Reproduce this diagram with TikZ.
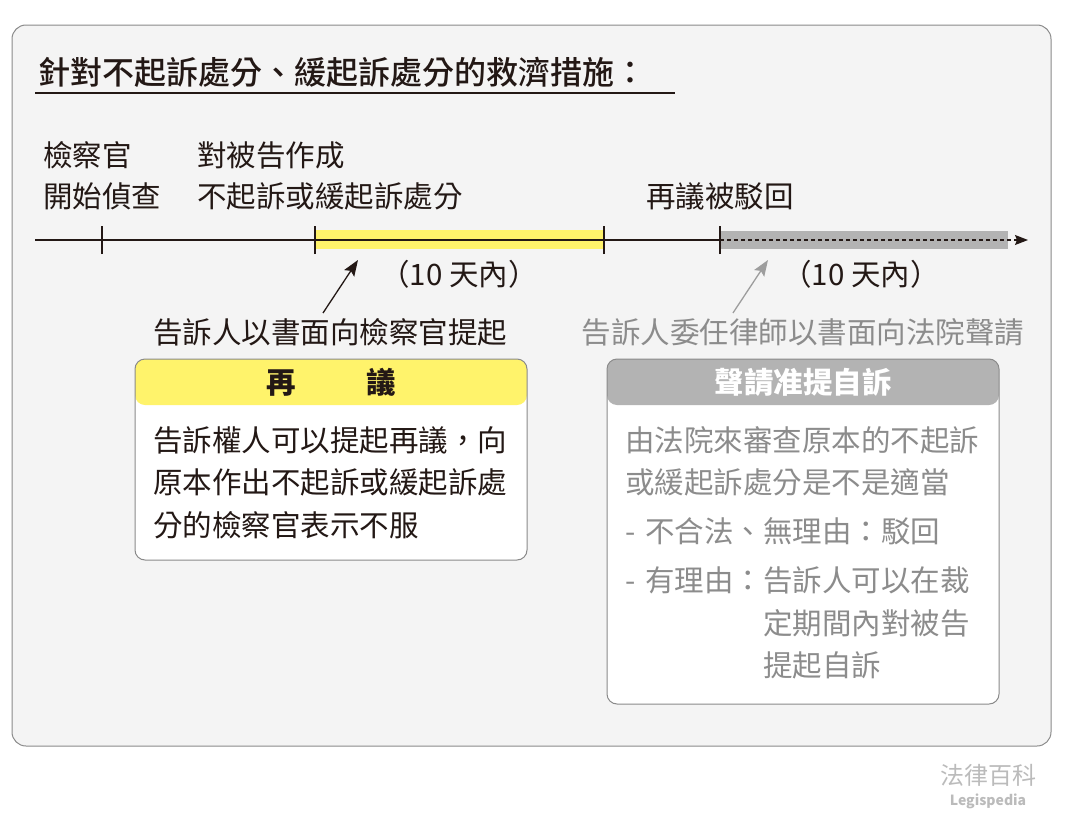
\documentclass[tikz,border=0pt]{standalone}
\usepackage{fontspec}
\setmainfont{Noto Sans CJK TC}
\newfontfamily\titlefont{Noto Sans CJK TC Medium}
\usetikzlibrary{arrows.meta, positioning}
\definecolor{ink}{HTML}{231815}
\definecolor{panel}{HTML}{F4F4F4}
\definecolor{frame}{HTML}{8A8A8A}
\definecolor{hlyellow}{HTML}{FFF36B}
\definecolor{hlgray}{HTML}{B3B3B3}
\definecolor{softgray}{HTML}{8C8C8C}
\definecolor{marktext}{HTML}{BBBBBB}

\begin{document}
\begin{tikzpicture}[x=1pt,y=-1pt]
	\tikzset{txt/.style={inner sep=0, text=ink, font=\fontsize{29.5}{42.5}\selectfont}}
	\tikzset{para/.style={txt, anchor=base west, text width=#1, align=left}}
	\tikzset{card/.style={draw=frame, line width=1pt, rounded corners=10pt, fill=white, inner sep=0}}
	\tikzset{tickmark/.style={draw=ink, line width=1.2pt}}
	\tikzset{ar/.style={-{Stealth[length=16pt,width=12pt,inset=3pt]}, line width=1.3pt}}
	\useasboundingbox (0,0) rectangle (1065,827);
	\draw[frame, fill=panel, line width=1pt, rounded corners=14pt] (12,25) rectangle (1051,746);
	\node[txt, anchor=west, font=\fontsize{32}{38}\titlefont] at (38,72) (title) {針對不起訴處分、緩起訴處分的救濟措施：};
	\draw[ink, line width=1.2pt] (35,93) -- (675,93);
	\fill[hlyellow] (315,230) rectangle (604,249);
	\fill[hlgray] (720,231) rectangle (1008,249);
	\coordinate (t0) at (35,240);
	\coordinate (t1) at (102,240);
	\coordinate (t2) at (315,240);
	\coordinate (t3) at (604,240);
	\coordinate (t4) at (720,240);
	\coordinate (tend) at (1028,240);
	\draw[ink, line width=1.2pt] (t0) -- (t4);
	\draw[ink, line width=1.2pt, dash pattern=on 4pt off 3pt, -{Stealth[length=13pt,width=10pt,inset=2pt]}] (t4) -- (tend);
	\foreach \t in {t1,t2,t3,t4}
		\draw[tickmark] ([yshift=-14pt]\t) -- ([yshift=14pt]\t);
	\node[para=200pt] at (43,166) (start) {檢察官\\[-1.5pt]開始偵查};
	\node[para=320pt] at (197,166) (decide) {對被告作成\\[-1.5pt]不起訴或緩起訴處分};
	\node[txt, anchor=west] at (646,196) (reject) {再議被駁回};
	\node[txt] at (459,274) (days1) {（10 天內）};
	\node[txt] at (861,274) (days2) {（10 天內）};
	\node[txt] at (330,332) (req) {告訴人以書面向檢察官提起};
	\node[txt, text=softgray] at (803,332) (app) {告訴人委任律師以書面向法院聲請};
	\coordinate (p1) at (358,260);
	\coordinate (p2) at (768,260);
	\draw[ar, ink] ([xshift=-7pt,yshift=5pt]req.north) -- (p1);
	\draw[ar, softgray!85] ([xshift=-70pt,yshift=5pt]app.north) -- (p2);
	\node[card, minimum width=392pt, minimum height=201pt, path picture={\fill[hlyellow] (path picture bounding box.north west) rectangle ([yshift=-46pt]path picture bounding box.north east);}] at (331,459.5) (recon) {};
	\node[txt, font=\fontsize{29.5}{35}\bfseries] at ([yshift=-24pt]recon.north) (reconhead) {再\hspace{2.4em}議};
	\node[para=372pt] at (153,451) (recontext) {告訴權人可以提起再議，向\\原本作出不起訴或緩起訴處\\分的檢察官表示不服};
	\node[card, minimum width=392pt, minimum height=345pt, path picture={\fill[hlgray] (path picture bounding box.north west) rectangle ([yshift=-46pt]path picture bounding box.north east);}] at (803,531.5) (appeal) {};
	\node[txt, text=white, font=\fontsize{29.5}{35}\bfseries] at ([yshift=-24pt]appeal.north) (appealhead) {聲請准提自訴};
	\node[para=372pt, text=softgray] at (625,451) (appealtext) {由法院來審查原本的不起訴\\或緩起訴處分是不是適當\\[6.5pt]- 不合法、無理由：駁回\\[6.5pt]- 有理由：告訴人可以在裁\\\hphantom{- 有理由：}定期間內對被告\\\hphantom{- 有理由：}提起自訴};
	\node[inner sep=0, text=marktext, font=\fontsize{24}{28}\selectfont] at (988,775) (brand) {法律百科};
	\node[inner sep=0, text=marktext, font=\fontsize{14}{16}\bfseries, below=7pt of brand] (brandsub) {Legispedia};
\end{tikzpicture}
\end{document}
